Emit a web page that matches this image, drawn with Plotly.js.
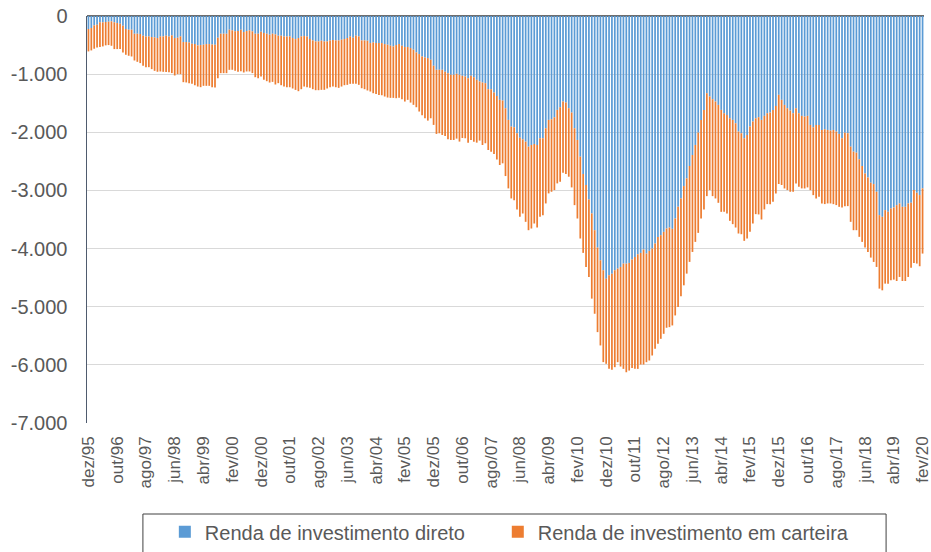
<!DOCTYPE html>
<html>
<head>
<meta charset="utf-8">
<script src="https://cdn.plot.ly/plotly-3.0.1.min.js"></script>
<style>html,body{margin:0;padding:0;background:#fff;}#chart{width:931px;height:552px;}</style>
</head>
<body>
<div id="chart"></div>
<script>
// Meses (abreviações) e período: dez/95 a fev/20
const meses = ['jan','fev','mar','abr','mai','jun','jul','ago','set','out','nov','dez'];
const inicioAno = 1995, inicioMes = 11, totalMeses = 291;

// Rótulos exibidos no eixo X
const rotulosX = ['dez/95','out/96','ago/97','jun/98','abr/99','fev/00','dez/00','out/01','ago/02','jun/03',
  'abr/04','fev/05','dez/05','out/06','ago/07','jun/08','abr/09','fev/10','dez/10','out/11',
  'ago/12','jun/13','abr/14','fev/15','dez/15','out/16','ago/17','jun/18','abr/19','fev/20'];

// Rótulos do eixo Y
const valoresY = [-7000,-6000,-5000,-4000,-3000,-2000,-1000,0];
const rotulosY = ['-7.000','-6.000','-5.000','-4.000','-3.000','-2.000','-1.000','0'];

// Nomes das séries
const nomeDireto = 'Renda de investimento direto';
const nomeCarteira = 'Renda de investimento em carteira';

// Renda de investimento direto (US$ milhões)
const investDireto = [
  -224,-207,-161,-149,-109,-109,-103,-98,-92,-109,
  -121,-132,-167,-224,-236,-236,-305,-305,-310,-339,
  -351,-351,-362,-368,-379,-351,-351,-339,-351,-333,
  -379,-374,-351,-448,-448,-454,-477,-483,-506,-500,
  -494,-483,-483,-489,-494,-374,-305,-305,-305,-236,
  -247,-264,-259,-236,-276,-259,-247,-264,-305,-305,
  -270,-293,-305,-322,-305,-316,-339,-339,-351,-351,
  -351,-379,-397,-379,-351,-345,-351,-397,-420,-437,
  -437,-425,-437,-437,-420,-414,-420,-420,-408,-397,
  -379,-351,-374,-339,-351,-420,-420,-425,-466,-454,
  -466,-466,-466,-483,-494,-511,-523,-500,-483,-511,
  -534,-534,-552,-580,-626,-655,-695,-713,-724,-753,
  -856,-925,-925,-925,-960,-983,-1011,-1011,-994,-1011,
  -1029,-1040,-1069,-1029,-1052,-1098,-1126,-1144,-1155,-1259,
  -1259,-1316,-1374,-1442,-1454,-1586,-1787,-1902,-1914,-2017,
  -2092,-2121,-2161,-2247,-2218,-2201,-2218,-2103,-2103,-1931,
  -1787,-1776,-1741,-1615,-1569,-1471,-1488,-1586,-1661,-1931,
  -2132,-2419,-2718,-2908,-3155,-3396,-3684,-3983,-4201,-4373,
  -4517,-4460,-4431,-4373,-4345,-4316,-4259,-4259,-4247,-4190,
  -4144,-4098,-4075,-4017,-4086,-4040,-4000,-3914,-3799,-3770,
  -3713,-3655,-3638,-3661,-3483,-3282,-3138,-2925,-2793,-2580,
  -2391,-2218,-2006,-1787,-1615,-1328,-1385,-1431,-1471,-1529,
  -1615,-1672,-1701,-1759,-1787,-1845,-1988,-2017,-2103,-2046,
  -1902,-1816,-1759,-1741,-1787,-1718,-1672,-1661,-1615,-1546,
  -1356,-1442,-1529,-1586,-1626,-1672,-1586,-1672,-1718,-1730,
  -1718,-1874,-1914,-1874,-1874,-1960,-1948,-1960,-1971,-1960,
  -1988,-2029,-2103,-2006,-2017,-2247,-2333,-2351,-2465,-2580,
  -2707,-2776,-2868,-2891,-3023,-3425,-3454,-3339,-3368,-3310,
  -3293,-3253,-3224,-3282,-3282,-3224,-3213,-2994,-3040,-3080,-2965
];

// Renda de investimento em carteira (US$ milhões)
const investCarteira = [
  -385,-385,-402,-391,-425,-414,-402,-402,-420,-460,
  -448,-437,-460,-443,-448,-460,-460,-483,-500,-517,
  -529,-529,-552,-575,-580,-603,-609,-626,-615,-649,
  -644,-626,-649,-690,-695,-701,-690,-707,-707,-724,
  -707,-718,-718,-736,-736,-695,-678,-678,-678,-690,
  -678,-678,-701,-713,-695,-695,-707,-718,-747,-764,
  -770,-805,-816,-822,-828,-862,-816,-851,-862,-874,
  -874,-868,-874,-914,-908,-868,-874,-839,-839,-839,
  -839,-845,-833,-810,-805,-799,-805,-816,-805,-793,
  -805,-816,-793,-828,-833,-822,-839,-856,-833,-874,
  -874,-891,-897,-902,-908,-897,-885,-914,-925,-920,
  -937,-908,-937,-948,-943,-988,-1011,-1046,-1075,-1006,
  -1017,-1103,-1092,-1121,-1103,-1138,-1121,-1121,-1115,-1149,
  -1069,-1063,-1109,-1103,-1109,-1080,-1017,-1075,-1034,-1046,
  -1075,-1057,-1092,-1121,-1080,-1167,-1178,-1236,-1253,-1310,
  -1362,-1276,-1379,-1437,-1437,-1368,-1419,-1351,-1322,-1293,
  -1264,-1247,-1253,-1264,-1282,-1224,-1230,-1178,-1287,-1322,
  -1351,-1408,-1356,-1408,-1333,-1465,-1437,-1454,-1465,-1580,
  -1465,-1609,-1655,-1667,-1609,-1713,-1810,-1868,-1851,-1862,
  -1925,-1971,-1919,-1977,-1868,-1885,-1839,-1810,-1839,-1782,
  -1753,-1707,-1713,-1661,-1667,-1724,-1684,-1707,-1638,-1649,
  -1667,-1667,-1724,-1695,-1713,-1770,-1609,-1667,-1667,-1684,
  -1753,-1695,-1695,-1764,-1793,-1793,-1753,-1736,-1764,-1782,
  -1810,-1753,-1649,-1672,-1713,-1609,-1563,-1575,-1580,-1506,
  -1534,-1465,-1437,-1408,-1397,-1351,-1293,-1264,-1247,-1236,
  -1230,-1121,-1167,-1264,-1236,-1264,-1287,-1264,-1253,-1276,
  -1264,-1253,-1190,-1264,-1253,-1293,-1351,-1333,-1333,-1305,
  -1276,-1282,-1287,-1339,-1293,-1264,-1264,-1264,-1236,-1236,
  -1241,-1305,-1264,-1276,-1276,-1264,-1115,-1253,-1218,-1224,-1121
];

// Categorias mensais
const categorias = [];
for (let k = 0; k < totalMeses; k++) {
  const m = (inicioMes + k) % 12;
  const a = inicioAno + Math.floor((inicioMes + k) / 12);
  categorias.push(meses[m] + '/' + String(a % 100).padStart(2, '0'));
}

const traces = [
  {type: 'bar', name: nomeDireto + '\u00A0\u00A0\u00A0\u00A0\u00A0', x: categorias, y: investDireto,
   marker: {color: '#5B9BD5', line: {width: 0}}},
  {type: 'bar', name: nomeCarteira, x: categorias, y: investCarteira,
   marker: {color: '#ED7D31', line: {width: 0}}}
];

const layout = {
  width: 931, height: 552,
  margin: {l: 87, r: 7, t: 16, b: 129, pad: 0},
  paper_bgcolor: '#ffffff', plot_bgcolor: '#ffffff',
  barmode: 'relative', bargap: 0.4,
  showlegend: true, hovermode: false,
  font: {family: 'Liberation Sans, Arial, sans-serif', color: '#595959'},
  xaxis: {
    type: 'category', tickmode: 'array', tickvals: rotulosX, ticktext: rotulosX,
    tickangle: -90, ticks: '', showgrid: false, showline: false, zeroline: false,
    tickfont: {family: 'Liberation Sans, Arial, sans-serif', size: 17, color: '#595959'},
    ticklabelstandoff: 9, fixedrange: true
  },
  yaxis: {
    range: [-7000, 0], tickmode: 'array', tickvals: valoresY, ticktext: rotulosY,
    showgrid: true, gridcolor: '#D9D9D9', gridwidth: 1,
    showline: true, linecolor: '#4F5B6E', linewidth: 1.5,
    zeroline: true, zerolinecolor: '#6E6E6E', zerolinewidth: 1.5,
    ticks: '', ticklabelstandoff: 14,
    tickfont: {family: 'Liberation Sans, Arial, sans-serif', size: 20, color: '#595959'},
    fixedrange: true
  },
  legend: {
    orientation: 'h', x: 0.093, xanchor: 'left', yref: 'container', y: 0.072, yanchor: 'top',
    font: {family: 'Liberation Sans, Arial, sans-serif', size: 20, color: '#595959'},
    bgcolor: 'rgba(0,0,0,0)', traceorder: 'normal'
  },
  shapes: [
    {type: 'rect', xref: 'paper', yref: 'paper', x0: 0.0668, x1: 0.9547, y0: -0.2236, y1: -0.34,
     line: {color: '#404040', width: 1}, fillcolor: 'rgba(0,0,0,0)'}
  ]
};

Plotly.newPlot('chart', traces, layout, {displayModeBar: false, staticPlot: true});
</script>
</body>
</html>
